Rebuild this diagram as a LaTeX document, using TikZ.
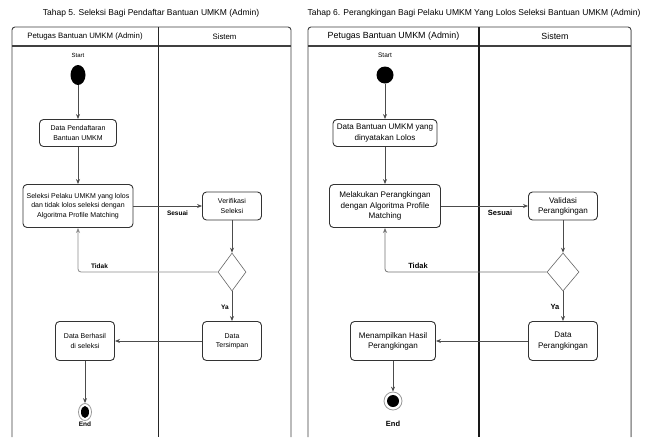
\documentclass[tikz,border=0pt]{standalone}
\usepackage{fontspec}
\setmainfont{Liberation Sans}
\usetikzlibrary{arrows.meta,shapes.geometric}
\begin{document}
\begin{tikzpicture}[x=1pt,y=-1pt,
  frame/.style={draw=black!75,line width=0.9pt},
  lane/.style={draw=black!85,line width=0.7pt},
  act/.style={draw=black!80,line width=0.9pt,rounded corners=4pt,align=center,inner sep=1pt,font=\fontsize{7}{9.2}\selectfont},
  actR/.style={act,font=\fontsize{8.1}{10.2}\selectfont},
  flow/.style={draw=black!70,line width=0.8pt,-{Stealth[length=5pt,width=4pt]}},
  back/.style={draw=black!45,line width=0.8pt,rounded corners=3pt,-{Stealth[length=5pt,width=4pt]}},
  dec/.style={diamond,draw=black!60,line width=0.6pt,inner sep=0pt},
  lbl/.style={font=\bfseries\fontsize{6.5}{8}\selectfont,inner sep=1pt},
  lblR/.style={font=\bfseries\fontsize{7.5}{9}\selectfont,inner sep=1pt},
  ttl/.style={font=\fontsize{8.5}{10}\selectfont},
  hdr/.style={font=\fontsize{7.8}{10}\selectfont},
  hdrR/.style={font=\fontsize{8.9}{10}\selectfont}]
\useasboundingbox (0,0) rectangle (647,437);
\fill[white] (0,0) rectangle (647,437);
% ---------- titles ----------
\node[ttl] (t1) at (151,13) {Tahap 5. Seleksi Bagi Pendaftar Bantuan UMKM (Admin)};
\node[ttl] (t2) at (474,13) {Tahap 6. Perangkingan Bagi Pelaku UMKM Yang Lolos Seleksi Bantuan UMKM (Admin)};
% ---------- left frame ----------
\draw[frame,rounded corners=3pt] (12,437) -- (12,27) -- (291,27) -- (291,437);
\draw[frame,line width=1.3pt] (12,46) -- (291,46);
\draw[lane] (158,27) -- (158,437);
\node[hdr] (h1) at (85,36.5) {Petugas Bantuan UMKM (Admin)};
\node[hdr] (h2) at (224.5,36.5) {Sistem};
% ---------- right frame ----------
\draw[frame,rounded corners=3pt] (308,437) -- (308,27) -- (631,27) -- (631,437);
\draw[frame,draw=black!40] (631,30) -- (631,437);
\draw[frame,line width=1.3pt] (308,46) -- (631,46);
\draw[draw=black!90,line width=1.5pt] (479,27) -- (479,437);
\node[hdrR] (h3) at (393.5,36.5) {Petugas Bantuan UMKM (Admin)};
\node[hdrR] (h4) at (555,36.5) {Sistem};
% ---------- left diagram ----------
\node[font=\fontsize{6}{7}\selectfont] (sl) at (78,55) {Start};
\node[ellipse,fill=black,minimum width=15pt,minimum height=20pt,inner sep=0pt] (s1) at (78,75) {};
\node[act,minimum width=77pt,minimum height=27pt] (a1) at (78,133) {Data Pendaftaran\\Bantuan UMKM};
\node[act,minimum width=110pt,minimum height=43pt] (a2) at (78,206) {Seleksi Pelaku UMKM yang lolos\\dan tidak lolos seleksi dengan\\Algoritma Profile Matching};
\node[act,minimum width=59pt,minimum height=28pt] (a3) at (232,206) {Verifikasi\\Seleksi};
\node[dec,minimum width=28pt,minimum height=38pt,shape aspect=0.74] (d1) at (232,272) {};
\node[act,minimum width=59pt,minimum height=39pt] (a4) at (232,341) {Data\\Tersimpan};
\node[act,minimum width=59pt,minimum height=39pt] (a5) at (85,341) {Data Berhasil\\di seleksi};
\node[ellipse,draw=black!40,line width=0.8pt,minimum width=13pt,minimum height=17pt,inner sep=0pt] (e1) at (85,412) {};
\node[ellipse,fill=black,minimum width=8pt,minimum height=12pt,inner sep=0pt] (e1i) at (85,412) {};
\node[lbl] (el1) at (85,424) {End};
\draw[flow] (s1) -- (a1);
\draw[flow] (a1) -- (a2);
\draw[flow] (a2) -- (a3);
\node[lbl] (su1) at (177.5,213) {Sesuai};
\draw[flow] (a3) -- (d1);
\draw[back] (d1.west) -| (a2.south);
\node[lbl] (ti1) at (99.5,266) {Tidak};
\draw[flow] (d1) -- (a4);
\node[lbl] (ya1) at (225,307) {Ya};
\draw[flow] (a4) -- (a5);
\draw[flow] (a5) -- (e1);
% ---------- right diagram ----------
\node[font=\fontsize{6.5}{7}\selectfont] (sr) at (385,55) {Start};
\node[circle,fill=black,minimum size=17pt,inner sep=0pt] (s2) at (385,75) {};
\node[actR,minimum width=104pt,minimum height=27pt] (b1) at (385,133) {Data Bantuan UMKM yang\\dinyatakan Lolos};
\node[actR,minimum width=111pt,minimum height=43pt] (b2) at (385,206) {Melakukan Perangkingan\\dengan Algoritma Profile\\Matching};
\node[actR,minimum width=69pt,minimum height=28pt] (b3) at (563,206) {Validasi\\Perangkingan};
\node[dec,minimum width=32pt,minimum height=38pt,shape aspect=0.84] (d2) at (563,272) {};
\node[actR,minimum width=69pt,minimum height=39pt] (b4) at (563,341) {Data\\Perangkingan};
\node[actR,minimum width=85pt,minimum height=39pt] (b5) at (393,341) {Menampilkan Hasil\\Perangkingan};
\node[circle,draw=black!40,line width=0.8pt,minimum size=18pt,inner sep=0pt] (e2) at (393,401) {};
\node[circle,fill=black,minimum size=12pt,inner sep=0pt] (e2i) at (393,401) {};
\node[lblR] (el2) at (393,424) {End};
\draw[flow] (s2) -- (b1);
\draw[flow] (b1) -- (b2);
\draw[flow] (b2) -- (b3);
\node[lblR] (su2) at (500,213) {Sesuai};
\draw[flow] (b3) -- (d2);
\draw[back,draw=black!55] (d2.west) -| (b2.south);
\node[lblR] (ti2) at (418,266) {Tidak};
\draw[flow] (d2) -- (b4);
\node[lblR] (ya2) at (555,307) {Ya};
\draw[flow] (b4) -- (b5);
\draw[flow] (b5) -- (e2);
\end{tikzpicture}
\end{document}
